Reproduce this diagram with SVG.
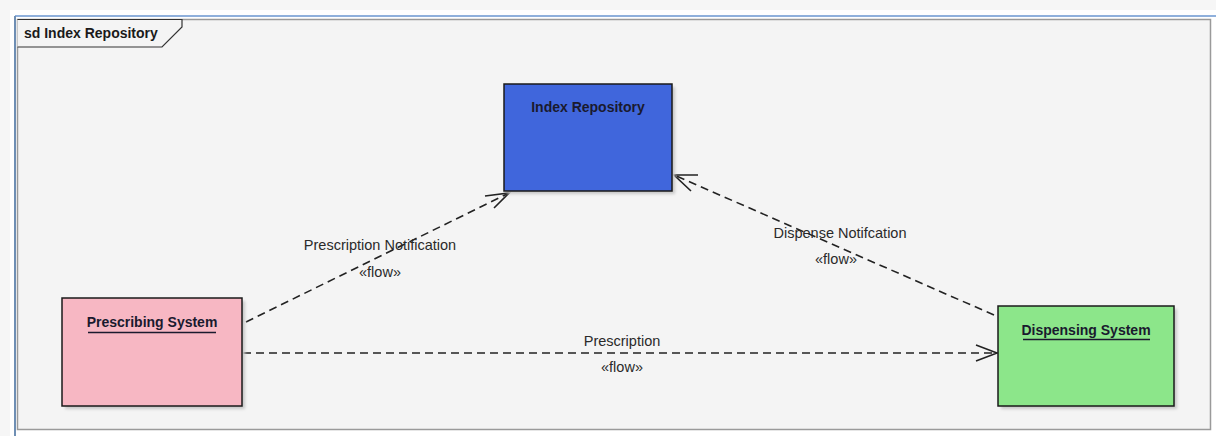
<svg xmlns="http://www.w3.org/2000/svg" width="1216" height="436" viewBox="0 0 1216 436">
<defs>
<style>
.lbl{font-family:"Liberation Sans",Arial,sans-serif;font-size:14.5px;fill:#2a2a2a;text-anchor:middle}
.nodet{font-family:"Liberation Sans",Arial,sans-serif;font-size:14px;font-weight:bold;fill:#1a1a2e;text-anchor:middle}
.node{stroke:#1a1a1a;stroke-width:1.5}
.shadow{fill:#c8c8c8}
.conn{fill:none;stroke:#222;stroke-width:1.6;stroke-dasharray:8 5}
.head{fill:none;stroke:#222;stroke-width:1.6}
.ul{stroke:#1a1a2e;stroke-width:1.5}
</style>
<filter id="blur" x="-10%" y="-10%" width="120%" height="120%"><feGaussianBlur stdDeviation="1.5"/></filter>
</defs>
<rect x="0" y="0" width="1216" height="436" fill="#f6f6f6"/>
<rect x="10" y="10" width="1210" height="430" fill="#ffffff"/>
<line x1="15" y1="16" x2="1216" y2="16" stroke="#8fb0dc" stroke-width="2"/>
<line x1="15" y1="16" x2="15" y2="436" stroke="#6f8fb4" stroke-width="2"/>
<g id="frame">
<rect x="17.5" y="19.5" width="1193" height="410" fill="#f4f4f4" stroke="#9a9a9a" stroke-width="1.5"/>
<path d="M17.5 19.5 H182 V27 L162 47 H17.5" fill="#f4f4f4" stroke="#333" stroke-width="1.2"/>
<text x="24" y="38" style="font-family:'Liberation Sans',Arial,sans-serif;font-size:14px;font-weight:bold;fill:#1a1a1a">sd Index Repository</text>
</g>
<g id="connectors">
<g id="c-prescription-notification">
<line class="conn" x1="246" y1="322" x2="509" y2="193"/>
<polyline class="head" points="485,196 509,193 494,208"/>
<text class="lbl" x="380" y="250">Prescription Notification</text>
<text class="lbl" x="380" y="277">«flow»</text>
</g>
<g id="c-dispense-notification">
<line class="conn" x1="994" y1="315" x2="674" y2="175"/>
<polyline class="head" points="698,175 674,175 691,191"/>
<text class="lbl" x="840" y="238">Dispense Notifcation</text>
<text class="lbl" x="836" y="264">«flow»</text>
</g>
<g id="c-prescription">
<line class="conn" x1="243" y1="353" x2="996" y2="353"/>
<polyline class="head" points="976,345 997,353 976,361"/>
<text class="lbl" x="622" y="346">Prescription</text>
<text class="lbl" x="622" y="372">«flow»</text>
</g>
</g>
<g id="index-repository">
<rect class="shadow" x="507" y="87" width="168" height="107" filter="url(#blur)"/>
<rect class="node" x="504" y="84" width="168" height="107" fill="#4066dc"/>
<text class="nodet" x="588" y="112">Index Repository</text>
</g>
<g id="prescribing-system">
<rect class="shadow" x="65" y="301" width="180" height="108" filter="url(#blur)"/>
<rect class="node" x="62" y="298" width="180" height="108" fill="#f7b7c3"/>
<text class="nodet" x="152" y="327">Prescribing System</text>
<line class="ul" x1="88" y1="332.5" x2="216" y2="332.5"/>
</g>
<g id="dispensing-system">
<rect class="shadow" x="1001" y="309" width="176" height="100" filter="url(#blur)"/>
<rect class="node" x="998" y="306" width="176" height="100" fill="#8ce68a"/>
<text class="nodet" x="1086" y="335">Dispensing System</text>
<line class="ul" x1="1023" y1="339.5" x2="1150" y2="339.5"/>
</g>
</svg>
